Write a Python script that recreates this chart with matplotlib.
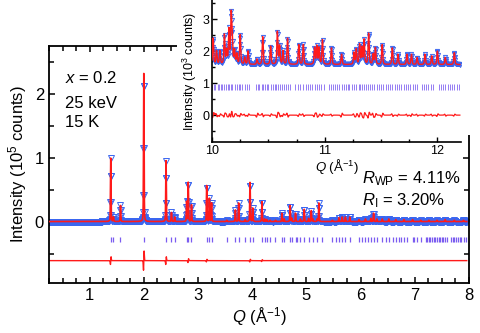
import numpy as np
import matplotlib
matplotlib.use('Agg')
import matplotlib.pyplot as plt
from matplotlib.patches import Rectangle
from matplotlib.ticker import MultipleLocator

plt.rcParams['font.family'] = ['Liberation Sans', 'DejaVu Sans']
plt.rcParams['mathtext.fontset'] = 'custom'
plt.rcParams['mathtext.rm'] = 'Liberation Sans'
plt.rcParams['mathtext.it'] = 'Liberation Sans:italic'
plt.rcParams['mathtext.bf'] = 'Liberation Sans:bold'

# main pattern: peak positions (1/A) and peak heights (1e5 counts)
main_pos = [1.39, 1.44, 1.57, 2.00, 2.41, 2.51, 2.57, 2.79, 2.82, 2.88,
            3.16, 3.21, 3.25, 3.53, 3.69, 3.75, 3.87, 3.96, 4.01, 4.18,
            4.23, 4.27, 4.33, 4.43, 4.55, 4.59, 4.70, 4.73, 4.80, 4.89,
            4.96, 5.04, 5.09, 5.12, 5.20, 5.23, 5.48, 5.60, 5.66, 5.72,
            5.80, 5.97, 6.09, 6.19, 6.24, 6.30, 6.40, 6.52, 6.65, 6.80,
            6.96, 7.11, 7.26, 7.41, 7.56, 7.73, 7.90]
main_hgt = [1.00, 0.08, 0.26, 2.32, 0.96, 0.15, 0.08, 0.32, 0.62, 0.27,
            0.57, 0.37, 0.30, 0.03, 0.19, 0.30, 0.04, 0.62, 0.22, 0.32,
            0.05, 0.04, 0.03, 0.03, 0.14, 0.05, 0.26, 0.06, 0.14, 0.05,
            0.20, 0.06, 0.18, 0.05, 0.05, 0.30, 0.03, 0.07, 0.08, 0.08,
            0.08, 0.04, 0.05, 0.06, 0.14, 0.05, 0.05, 0.05, 0.04, 0.04,
            0.04, 0.03, 0.03, 0.03, 0.04, 0.03, 0.03]
main_bg = 0.01

# reflection marks
main_ticks = [1.39, 1.43, 1.57, 2.00, 2.41, 2.51, 2.57, 2.79, 2.82, 2.88,
              3.16, 3.21, 3.25, 3.53, 3.69, 3.75, 3.87, 3.96, 4.01, 4.18,
              4.23, 4.27, 4.33, 4.43, 4.55, 4.59, 4.70, 4.73, 4.80, 4.83,
              4.89, 4.96, 5.04, 5.12, 5.20, 5.29, 5.48, 5.54, 5.60, 5.66,
              5.72, 5.80, 5.97, 6.03, 6.09, 6.14, 6.19, 6.25, 6.30, 6.40,
              6.46, 6.52, 6.59, 6.65, 6.71, 6.75, 6.80, 6.86, 6.96, 6.99,
              7.05, 7.11, 7.20, 7.23, 7.26, 7.29, 7.32, 7.35, 7.38, 7.41,
              7.44, 7.47, 7.50, 7.53, 7.56, 7.60, 7.67, 7.70, 7.73, 7.76,
              7.80, 7.83, 7.86, 7.90, 7.94]

# obs - calc misfit at the strong peaks
main_dpos = [1.39, 2.00, 2.41, 2.82, 3.16, 3.96, 4.18]
main_damp = [0.06, 0.15, 0.06, 0.03, 0.02, 0.02, 0.015]

# inset (high Q): positions and peak heights (1e3 counts)
ins_pos = [10.01, 10.04, 10.07, 10.11, 10.13, 10.15, 10.17, 10.18, 10.20, 10.22,
           10.25, 10.29, 10.32, 10.40, 10.45, 10.52, 10.58, 10.60, 10.63, 10.67,
           10.77, 10.81, 10.91, 10.93, 10.95, 10.98, 11.06, 11.15, 11.26, 11.28,
           11.31, 11.33, 11.35, 11.39, 11.43, 11.45, 11.51, 11.60, 11.65, 11.73,
           11.77, 11.82, 11.89, 11.95, 12.00, 12.07, 12.15]
ins_hgt = [2.40, 2.00, 2.00, 2.50, 2.00, 2.65, 3.10, 2.30, 2.00, 1.90,
           2.50, 1.80, 2.00, 1.75, 2.45, 2.15, 2.60, 2.15, 2.00, 2.40,
           2.20, 2.20, 2.10, 2.15, 2.10, 2.35, 2.10, 1.90, 1.95, 2.05,
           2.20, 2.10, 2.35, 2.55, 1.90, 2.10, 2.20, 2.10, 1.90, 1.90,
           1.90, 1.80, 1.90, 1.85, 2.00, 1.80, 1.95]
ins_bg = 1.58
ins_damp = [0.08, -0.05, 0.04, 0.06, -0.04, 0.05, 0.07, -0.05, 0.04, -0.03,
            0.05, -0.03, 0.04, 0.06, -0.05, 0.04, 0.08, -0.05, 0.04, -0.06,
            0.04, -0.04, 0.05, -0.06, 0.03, 0.04, -0.03, 0.06, -0.04, 0.05,
            0.06, -0.05, 0.08, 0.09, -0.06, 0.05, 0.06, -0.04, 0.03, -0.03,
            0.04, -0.03, 0.03, -0.03, 0.04, -0.03, 0.03]

ins_ticks = [10.00, 10.02, 10.03, 10.05, 10.06, 10.08, 10.09, 10.11, 10.12, 10.14,
             10.15, 10.17, 10.18, 10.20, 10.22, 10.24, 10.25, 10.27, 10.29, 10.31,
             10.33, 10.39, 10.41, 10.42, 10.44, 10.45, 10.47, 10.49, 10.50, 10.52,
             10.54, 10.56, 10.57, 10.59, 10.60, 10.62, 10.64, 10.66, 10.67, 10.69,
             10.74, 10.76, 10.78, 10.81, 10.83, 10.85, 10.87, 10.89, 10.91, 10.93,
             10.95, 10.97, 10.99, 11.04, 11.06, 11.07, 11.09, 11.11, 11.13, 11.15,
             11.17, 11.19, 11.21, 11.22, 11.24, 11.26, 11.28, 11.30, 11.31, 11.33,
             11.35, 11.37, 11.38, 11.40, 11.42, 11.44, 11.46, 11.48, 11.50, 11.52,
             11.54, 11.56, 11.58, 11.60, 11.62, 11.64, 11.66, 11.68, 11.70, 11.72,
             11.74, 11.76, 11.78, 11.80, 11.82, 11.86, 11.88, 11.90, 11.92, 11.94,
             11.96, 12.01, 12.03, 12.05, 12.07, 12.09, 12.11, 12.13, 12.15, 12.17,
             12.19]

BLUE = '#3a66f0'
RED = '#ff1a1a'
PURPLE = '#7b5cf0'


def pv(q, q0, fwhm, eta):
    x = (q - q0) / fwhm
    return eta / (1 + 4 * x**2) + (1 - eta) * np.exp(-4 * np.log(2) * x**2)


def profile(q, pos, hgt, bg, fwhm, eta):
    y = np.full_like(q, bg)
    for p, h in zip(pos, hgt):
        y += (h - bg) * pv(q, p, fwhm, eta)
    return y


def misfit(q, pos, amp, w):
    d = np.zeros_like(q)
    for p, a in zip(pos, amp):
        x = (q - p) / w
        d += a * 2.33 * x * np.exp(-x**2)
    return d


fig = plt.figure(figsize=(4.8, 3.33), dpi=100)

# ---- main panel
ax = fig.add_axes([0.102, 0.150, 0.875, 0.712])
q_obs = np.arange(0.25, 7.96, 0.004)
q_fine = np.arange(0.25, 7.96, 0.0005)
y_obs = profile(q_obs, main_pos, main_hgt, main_bg, 0.012, 0.3)
y_calc = profile(q_fine, main_pos, main_hgt, main_bg, 0.012, 0.3)
diff = misfit(q_fine, main_dpos, main_damp, 0.008)

ax.plot(q_obs, y_obs, 'v', mfc='none', mec=BLUE, ms=3.8, mew=0.7, zorder=2)
ax.plot(q_fine, y_calc, color=RED, lw=1.2, zorder=3)
ax.vlines(main_ticks, -0.315, -0.225, color=PURPLE, lw=0.9)
ax.plot(q_fine, diff - 0.6, color=RED, lw=1.0)

ax.set_xlim(0.25, 8)
ax.set_ylim(-0.95, 2.75)
ax.xaxis.set_major_locator(MultipleLocator(1))
ax.xaxis.set_minor_locator(MultipleLocator(0.25))
ax.set_yticks([0, 1, 2])
ax.yaxis.set_minor_locator(MultipleLocator(0.5))
ax.tick_params(which='both', direction='in', top=True, right=True, width=1.1, labelsize=12)
ax.tick_params(which='major', length=4.5)
ax.tick_params(which='minor', length=3.5)
for s in ax.spines.values():
    s.set_linewidth(1.3)
ax.set_xlabel(r'$Q$ (Å$^{-1}$)', fontsize=12, labelpad=2)
ax.set_ylabel(r'Intensity (10$^5$ counts)', fontsize=12, labelpad=4)

ax.text(0.038, 0.844, r'$x$ = 0.2', transform=ax.transAxes, fontsize=12, va='baseline')
ax.text(0.038, 0.738, '25 keV', transform=ax.transAxes, fontsize=12, va='baseline')
ax.text(0.038, 0.658, '15 K', transform=ax.transAxes, fontsize=12, va='baseline')
ax.text(0.745, 0.422, r'$R_{\rm WP}$ = 4.11%', transform=ax.transAxes, fontsize=12, va='baseline')
ax.text(0.745, 0.329, r'$R_{\rm I}$ = 3.20%', transform=ax.transAxes, fontsize=12, va='baseline')

# white backing behind the inset
fig.add_artist(Rectangle((0.369, 0.595), 0.631, 0.405, transform=fig.transFigure,
                         facecolor='white', edgecolor='none', zorder=1))

# ---- inset
axin = fig.add_axes([0.4417, 0.5736, 0.5188, 0.4264])
axin.set_zorder(3)
qi_obs = np.arange(10.0, 12.2, 0.003)
qi_fine = np.arange(10.0, 12.2, 0.0005)
yi_obs = profile(qi_obs, ins_pos, ins_hgt, ins_bg, 0.011, 0.5)
yi_calc = profile(qi_fine, ins_pos, ins_hgt, ins_bg, 0.011, 0.5)
di = misfit(qi_fine, ins_pos, ins_damp, 0.008)

axin.plot(qi_obs, yi_obs, 'v', mfc='none', mec=BLUE, ms=3, mew=0.7, zorder=2)
axin.plot(qi_fine, yi_calc, color=RED, lw=1.0, zorder=3)
axin.vlines(ins_ticks, 0.78, 0.98, color=PURPLE, lw=0.7, alpha=0.8)
axin.plot(qi_fine, di, color=RED, lw=0.9)

axin.set_xlim(10, 12.21)
axin.set_ylim(-0.84, 3.6)
axin.xaxis.set_major_locator(MultipleLocator(1))
axin.xaxis.set_minor_locator(MultipleLocator(0.25))
axin.set_yticks([0, 1, 2, 3])
axin.yaxis.set_minor_locator(MultipleLocator(0.5))
axin.spines['top'].set_visible(False)
axin.spines['right'].set_visible(False)
for s in ['left', 'bottom']:
    axin.spines[s].set_linewidth(1.2)
axin.tick_params(which='both', direction='in', width=1.0, labelsize=9, pad=2)
axin.tick_params(which='major', length=3.5)
axin.tick_params(which='minor', length=2.5)
axin.set_xlabel(r'$Q$ (Å$^{-1}$)', fontsize=9.5, labelpad=0)
axin.set_ylabel(r'Intensity (10$^3$ counts)', fontsize=9, labelpad=2)

fig.savefig('out.png', dpi=100)
